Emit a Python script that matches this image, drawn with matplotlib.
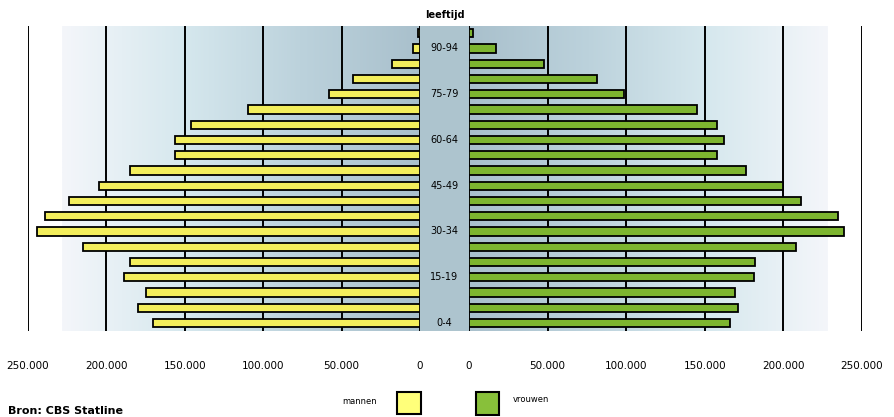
import numpy as np
import matplotlib.pyplot as plt
from matplotlib.colors import LinearSegmentedColormap
from matplotlib.patches import Rectangle

# leeftijdsgroepen, van jong naar oud
ages = ['0-4', '5-9', '10-14', '15-19', '20-24', '25-29', '30-34', '35-39',
        '40-44', '45-49', '50-54', '55-59', '60-64', '65-69', '70-74',
        '75-79', '80-84', '85-89', '90-94', '95+']
mannen = [170000, 180000, 175000, 189000, 185000, 215000, 244500, 239000,
          224000, 204500, 185000, 156000, 156000, 146000, 110000,
          58000, 42500, 18000, 4500, 1500]
vrouwen = [166000, 171000, 169000, 181000, 182000, 208000, 238500, 235000,
           211500, 199500, 176000, 157600, 162000, 157600, 145000,
           98800, 81700, 47500, 17000, 2500]
ticks = [0, 50000, 100000, 150000, 200000, 250000]
tick_labels = ['0', '50.000', '100.000', '150.000', '200.000', '250.000']
shown_ages = ['0-4', '15-19', '30-34', '45-49', '60-64', '75-79', '90-94']

W, H = 895, 417
fig = plt.figure(figsize=(W / 100, H / 100), dpi=100)

def box(x0, y0, x1, y1):
    # pixel box -> figure fraction
    return [x0 / W, 1 - y1 / H, (x1 - x0) / W, (y1 - y0) / H]

top, bottom = 25.6, 330.6
axL = fig.add_axes(box(28, top, 420, bottom))
axR = fig.add_axes(box(469, top, 862, bottom))
axC = fig.add_axes(box(420, top, 469, bottom))

bg = LinearSegmentedColormap.from_list('bg', ['#f4f6fa', '#d6e8ee', '#bcd2dc', '#a9c0cc'])
grad = np.linspace(1, 0, 256).reshape(1, -1)
y = np.arange(len(ages))

for ax, vals, col in [(axL, mannen, '#f3ee5c'), (axR, vrouwen, '#7db52f')]:
    ax.imshow(grad, cmap=bg, extent=(0, 228000, -0.5, len(ages) - 0.5),
              aspect='auto', zorder=0, interpolation='bilinear')
    for t in ticks:
        ax.axvline(t, color='black', lw=1.4, zorder=1)
    ax.barh(y, vals, height=0.55, color=col, edgecolor='black', lw=1.3, zorder=2)
    ax.set_ylim(-0.5, len(ages) - 0.5)
    ax.set_yticks([])
    ax.set_xticks(ticks)
    ax.set_xticklabels(tick_labels, fontsize=7.5)
    ax.tick_params(axis='x', length=0, pad=22)
    for s in ax.spines.values():
        s.set_visible(False)

axL.set_xlim(250000, 0)
axR.set_xlim(0, 250000)

# middenband met leeftijden
axC.set_facecolor('#adc4ce')
axC.set_ylim(-0.5, len(ages) - 0.5)
axC.set_xlim(0, 1)
axC.set_xticks([])
axC.set_yticks([])
for s in axC.spines.values():
    s.set_visible(False)
for lab in shown_ages:
    axC.text(0.5, ages.index(lab), lab, ha='center', va='center', fontsize=7)
axC.text(0.5, 1.02, 'leeftijd', transform=axC.transAxes, ha='center',
         va='bottom', fontsize=7, fontweight='bold', clip_on=False)

# legenda
fig.patches.append(Rectangle((397 / W, 1 - 414 / H), 24 / W, 22 / H,
                             transform=fig.transFigure, facecolor='#ffff7a',
                             edgecolor='black', lw=1.5))
fig.patches.append(Rectangle((476 / W, 1 - 415 / H), 23 / W, 23 / H,
                             transform=fig.transFigure, facecolor='#88c03a',
                             edgecolor='black', lw=1.5))
fig.text(377 / W, 1 - 402 / H, 'mannen', ha='right', va='center', fontsize=6)
fig.text(513 / W, 1 - 399 / H, 'vrouwen', ha='left', va='center', fontsize=6)

fig.text(8 / W, 1 - 416 / H, 'Bron: CBS Statline', ha='left', va='bottom',
         fontsize=8, fontweight='bold')

fig.savefig('out.png', dpi=100)
